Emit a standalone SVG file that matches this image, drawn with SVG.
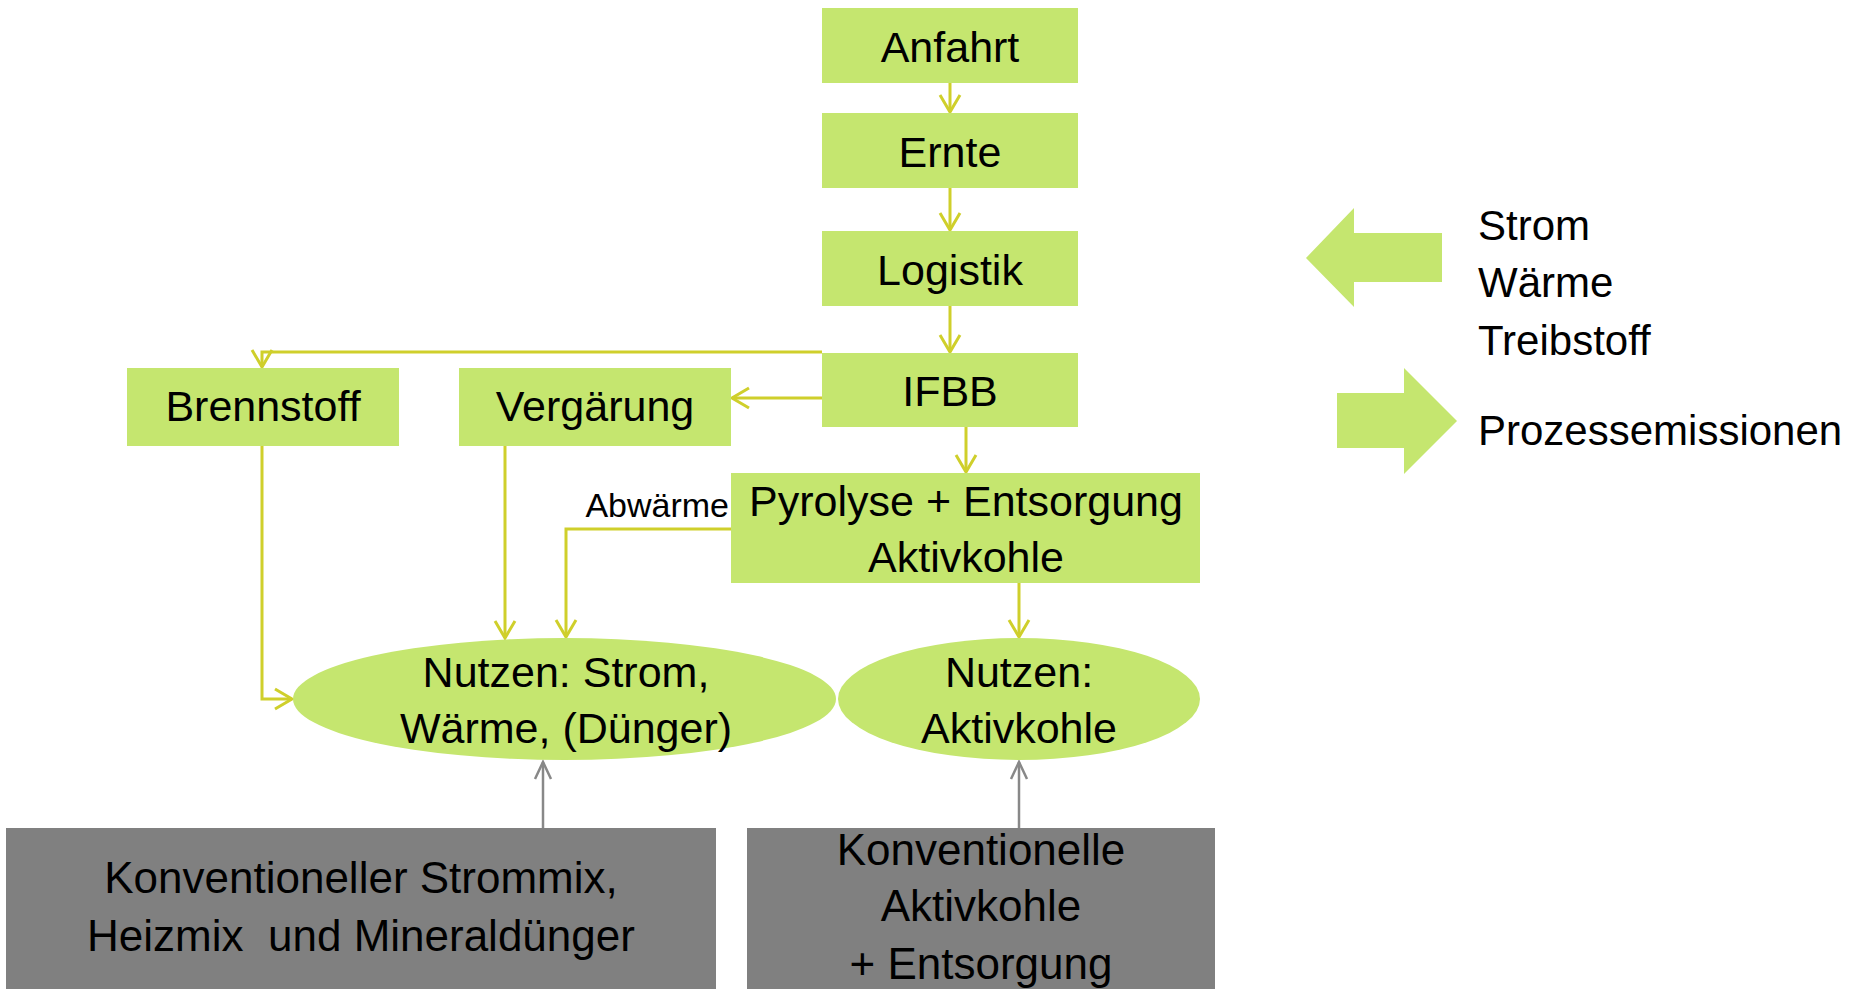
<svg xmlns="http://www.w3.org/2000/svg" width="1850" height="989" viewBox="0 0 1850 989">
<style>
.g{fill:#C5E66F}
.gr{fill:#808080}
.t{font-family:"Liberation Sans",Arial,sans-serif;font-size:43px;fill:#000;text-anchor:middle;white-space:pre}
.s{font-size:34px;text-anchor:end}
.l{text-anchor:start;font-size:42px}
.k{font-size:44px}
.c{fill:none;stroke:#CFCF2B;stroke-width:3}
.cg{fill:none;stroke:#888;stroke-width:2.5}
</style>
<defs>
<marker id="ay" markerUnits="userSpaceOnUse" markerWidth="22" markerHeight="22" viewBox="0 0 22 22" refX="19" refY="11" orient="auto" overflow="visible">
<path d="M2,1 L19,11 L2,21" fill="none" stroke="#CFCF2B" stroke-width="3"/>
</marker>
<marker id="ag" markerUnits="userSpaceOnUse" markerWidth="22" markerHeight="22" viewBox="0 0 22 22" refX="19" refY="11" orient="auto" overflow="visible">
<path d="M2,3 L19,11 L2,19" fill="none" stroke="#888" stroke-width="2.5"/>
</marker>
</defs>
<rect width="1850" height="989" fill="#fff"/>
<g id="connectors">
<path class="c" d="M950,83 V112" marker-end="url(#ay)"/>
<path class="c" d="M950,188 V230" marker-end="url(#ay)"/>
<path class="c" d="M950,306 V352" marker-end="url(#ay)"/>
<path class="c" d="M822,352 H262 V367" marker-end="url(#ay)"/>
<path class="c" d="M822,398 H732" marker-end="url(#ay)"/>
<path class="c" d="M966,427 V472" marker-end="url(#ay)"/>
<path class="c" d="M262,446 V699 H292" marker-end="url(#ay)"/>
<path class="c" d="M505,446 V638" marker-end="url(#ay)"/>
<path class="c" d="M731,529 H566 V637" marker-end="url(#ay)"/>
<path class="c" d="M1019,583 V637" marker-end="url(#ay)"/>
<path class="cg" d="M543,828 V762" marker-end="url(#ag)"/>
<path class="cg" d="M1019,828 V762" marker-end="url(#ag)"/>
<text class="t s" x="729" y="517">Abwärme</text>
</g>
<g id="anfahrt"><rect class="g" x="822" y="8" width="256" height="75"/><text class="t" x="950" y="62">Anfahrt</text></g>
<g id="ernte"><rect class="g" x="822" y="113" width="256" height="75"/><text class="t" x="950" y="167">Ernte</text></g>
<g id="logistik"><rect class="g" x="822" y="231" width="256" height="75"/><text class="t" x="950" y="285">Logistik</text></g>
<g id="ifbb"><rect class="g" x="822" y="353" width="256" height="74"/><text class="t" x="950" y="406">IFBB</text></g>
<g id="brennstoff"><rect class="g" x="127" y="368" width="272" height="78"/><text class="t" x="263" y="421">Brennstoff</text></g>
<g id="vergaerung"><rect class="g" x="459" y="368" width="272" height="78"/><text class="t" x="595" y="421">Vergärung</text></g>
<g id="pyrolyse"><rect class="g" x="731" y="473" width="469" height="110"/><text class="t" x="966" y="516">Pyrolyse + Entsorgung</text><text class="t" x="966" y="572">Aktivkohle</text></g>
<g id="nutzen1"><ellipse class="g" cx="564.5" cy="699" rx="271.5" ry="61"/><text class="t" x="566" y="687">Nutzen: Strom,</text><text class="t" x="566" y="743">Wärme, (Dünger)</text></g>
<g id="nutzen2"><ellipse class="g" cx="1019" cy="699" rx="181" ry="61"/><text class="t" x="1019" y="687">Nutzen:</text><text class="t" x="1019" y="743">Aktivkohle</text></g>
<g id="konv1"><rect class="gr" x="6" y="828" width="710" height="161"/><text class="t k" x="361" y="893">Konventioneller Strommix,</text><text class="t k" x="361" y="951">Heizmix  und Mineraldünger</text></g>
<g id="konv2"><rect class="gr" x="747" y="828" width="468" height="161"/><text class="t k" x="981" y="865">Konventionelle</text><text class="t k" x="981" y="921">Aktivkohle</text><text class="t k" x="981" y="979">+ Entsorgung</text></g>
<g id="legend-in"><polygon class="g" points="1306,258 1354,208 1354,233 1442,233 1442,282 1354,282 1354,307"/><text class="t l" x="1478" y="240">Strom</text><text class="t l" x="1478" y="297">Wärme</text><text class="t l" x="1478" y="355">Treibstoff</text></g>
<g id="legend-out"><polygon class="g" points="1337,393 1404,393 1404,368 1457,421 1404,474 1404,448 1337,448"/><text class="t l" x="1478" y="445">Prozessemissionen</text></g>
</svg>
